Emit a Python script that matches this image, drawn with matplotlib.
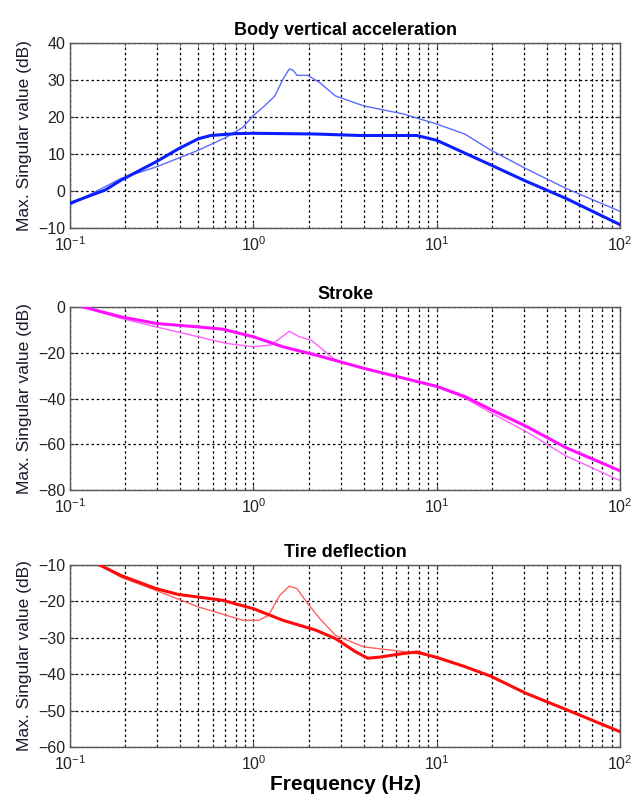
import numpy as np
import matplotlib
matplotlib.use('Agg')
import matplotlib.pyplot as plt
from matplotlib.ticker import LogLocator, NullFormatter

plt.rcParams['font.family'] = ['Liberation Sans', 'DejaVu Sans']
plt.rcParams['mathtext.default'] = 'regular'

# --- Body vertical acceleration (dB) ---
body_thick_f = [0.1, 0.156, 0.19, 0.295, 0.39, 0.5, 0.585, 0.8, 1.0, 2.19, 3.8, 7.8, 10, 19.8, 30.5, 50.7, 100]
body_thick_db = [-3.3, 0.3, 2.95, 7.9, 11.4, 14.1, 15.0, 15.5, 15.6, 15.4, 15.0, 15.0, 13.7, 7.0, 2.7, -2.0, -9.1]
body_thin_f = [0.1, 0.19, 0.295, 0.5, 0.71, 0.876, 1.0, 1.15, 1.31, 1.45, 1.57, 1.65, 1.73, 1.98, 2.3, 2.8, 4.0,
               6.6, 10, 14.2, 19.8, 30.5, 50.7, 100]
body_thin_db = [-3.75, 3.4, 6.5, 11.0, 14.5, 17.2, 20.4, 23.0, 25.7, 30.2, 33.0, 32.6, 31.25, 31.25, 29.3, 25.7,
                23.0, 20.8, 18.1, 15.4, 11.0, 6.1, 0.7, -5.5]

# --- Stroke (dB) ---
stroke_thick_f = [0.118, 0.19, 0.295, 0.5, 0.68, 1.0, 1.45, 2.19, 4.0, 10, 14.2, 19.8, 30.5, 50.7, 100]
stroke_thick_db = [0, -4.3, -7.2, -8.7, -9.7, -13, -17.4, -21, -26.8, -34.7, -39.1, -44.9, -52, -61.5, -71.6]
stroke_thin_f = [0.118, 0.19, 0.295, 0.5, 0.71, 1.0, 1.25, 1.57, 1.78, 2.07, 2.8, 4.0, 10, 14.2, 19.8, 30.5,
                 50.7, 100]
stroke_thin_db = [0, -5, -8.7, -13, -15.9, -17.4, -16.6, -10.6, -13, -14.5, -23.2, -26.8, -34.7, -39.8, -46.3,
                  -54.3, -65.1, -75.9]

# --- Tire deflection (dB) ---
tire_thick_f = [0.145, 0.19, 0.295, 0.39, 0.5, 0.68, 1.0, 1.45, 2.19, 2.8, 3.6, 4.2, 4.9, 6.6, 7.8, 10, 14.2,
                19.8, 30.5, 50.7, 100]
tire_thick_db = [-10, -12.9, -16.5, -18.1, -18.8, -19.7, -22, -25.2, -27.9, -30.2, -33.8, -35.6, -35.3, -34.3,
                 -33.9, -35.4, -37.9, -40.6, -45.2, -49.7, -55.8]
tire_thin_f = [0.145, 0.19, 0.295, 0.5, 0.71, 0.88, 1.07, 1.21, 1.39, 1.57, 1.73, 1.98, 2.3, 2.8, 4.0, 6.6, 10,
               14.2, 19.8, 30.5, 50.7, 100]
tire_thin_db = [-10, -13.4, -17, -21.5, -23.8, -25.2, -25.2, -23.8, -18.4, -15.8, -16.5, -20.6, -24.7, -29.3,
                -32.5, -33.8, -35.2, -37.9, -40.6, -45.2, -49.7, -55.8]

titles = ['Body vertical acceleration', 'Stroke', 'Tire deflection']
ylims = [(-10, 40), (-80, 0), (-60, -10)]
yticks = [np.arange(-10, 41, 10), np.arange(-80, 1, 20), np.arange(-60, -9, 10)]
thick_colors = ['#0a1eff', '#ff10ff', '#ff0a0a']
thin_colors = ['#5b6bff', '#ff60ff', '#ff6060']

series = [
    (body_thick_f, body_thick_db, body_thin_f, body_thin_db),
    (stroke_thick_f, stroke_thick_db, stroke_thin_f, stroke_thin_db),
    (tire_thick_f, tire_thick_db, tire_thin_f, tire_thin_db),
]

fig = plt.figure(figsize=(6.33, 8.02), dpi=100)
rects = [
    [0.1106, 0.7157, 0.869, 0.2307],
    [0.1106, 0.3890, 0.869, 0.2282],
    [0.1106, 0.0686, 0.869, 0.2269],
]

for i, rect in enumerate(rects):
    ax = fig.add_axes(rect)
    tf, tdb, nf, ndb = series[i]
    ax.plot(nf, ndb, color=thin_colors[i], lw=1.0, zorder=3)
    ax.plot(tf, tdb, color=thick_colors[i], lw=2.2, zorder=4)
    ax.set_xscale('log')
    ax.set_xlim(0.1, 100)
    ax.set_ylim(*ylims[i])
    ax.set_yticks(yticks[i])
    ax.xaxis.set_major_locator(LogLocator(base=10, numticks=10))
    ax.xaxis.set_minor_locator(LogLocator(base=10, subs=np.arange(2, 10), numticks=100))
    ax.xaxis.set_minor_formatter(NullFormatter())
    ax.grid(True, which='both', axis='x', color='black', linestyle=(0, (2, 2.2)), lw=0.9)
    ax.grid(True, which='major', axis='y', color='black', linestyle=(0, (2, 2.2)), lw=0.9)
    ax.tick_params(which='both', direction='in', top=True, right=True, labelsize=11.5,
                   labelcolor='#222222', color='#444444')
    ax.tick_params(which='minor', length=2)
    ax.tick_params(axis='x', pad=5)
    for sp in ax.spines.values():
        sp.set_color('#555555')
        sp.set_linewidth(1.0)
    ax.set_title(titles[i], fontsize=13, fontweight='bold', pad=6)
    ax.set_ylabel('Max. Singular value (dB)', fontsize=12.5, color='#1a1a2a', labelpad=4)
    if i == 2:
        ax.set_xlabel('Frequency (Hz)', fontsize=15, fontweight='bold', labelpad=2)

fig.savefig('out.png', dpi=100)
